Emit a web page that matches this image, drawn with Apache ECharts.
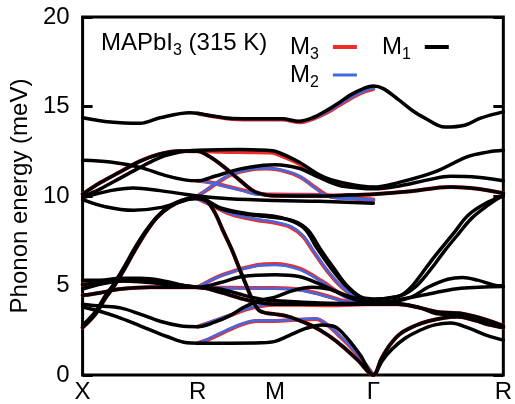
<!DOCTYPE html>
<html>
<head>
<meta charset="utf-8">
<script src="https://cdn.jsdelivr.net/npm/echarts@6/dist/echarts.min.js"></script>
<style>
  html, body { margin: 0; padding: 0; background: #fff; }
  #chart { width: 515px; height: 404px; }
</style>
</head>
<body>
<div id="chart"></div>
<script>
// Path coordinate of the high-symmetry points and their labels
const kTicks = [0, 116, 194, 293, 424];
const kLabels = ['X', 'R', 'M', 'Γ', 'R'];
const energyTicks = [0, 5, 10, 15, 20];

// Bands common to all three models: [k, energy (meV)]
const sharedBands = [
  [[0,2.65],[13,3.4],[23,4.3],[31,4.9],[43,6.0],[51,6.8],[63,7.9],[75,8.8],[88,9.4],[103,9.8],[116,9.95],[124,9.8],[133,9.1],[142,8.0],[150,7.05],[158,5.95],[165,5.0],[172,4.1],[178,3.6],[186,3.45],[194,3.4],[205,3.3],[218,3.05],[233,2.7],[248,2.2],[262,1.6],[277,0.85],[293,0],[293,0],[301,0.9],[310,1.7],[320,2.3],[335,2.75],[348,3.0],[365,3.2],[378,3.25],[395,3.05],[410,2.8],[424,2.65]],
  [[0,10.1],[18,10.75],[38,11.35],[58,11.95],[78,12.35],[98,12.52],[116,12.5],[128,12.2],[143,11.6],[158,10.9],[173,10.25],[186,10.05],[194,10.02],[238,10.0],[268,10.05],[293,10.1],[328,10.25],[371,10.5],[398,10.4],[424,10.15]],
  [[0,4.45],[18,4.6],[38,4.8],[68,4.9],[98,4.9],[116,4.9],[140,4.6],[165,4.2],[194,3.95],[240,3.95],[293,3.95],[318,3.95],[340,3.75],[360,3.5],[380,3.45],[400,3.2],[424,2.75]],
  [[0,5.05],[25,5.2],[50,5.3],[80,5.2],[100,5.0],[116,4.9]]
];

// M1 bands (full path)
const m1Bands = [
  [[0,14.37],[28,14.13],[58,14.06],[78,14.37],[108,14.65],[116,14.62],[128,14.5],[151,14.33],[178,14.32],[201,14.32],[218,14.18],[233,14.4],[245,14.75],[258,15.2],[270,15.65],[283,16.0],[293,16.15],[303,16.0],[318,15.4],[333,14.75],[345,14.35],[365,13.85],[385,13.95],[401,14.35],[424,14.7]],
  [[0,12.0],[28,11.9],[58,11.6],[83,11.15],[103,10.9],[116,10.85],[133,11.1],[158,11.5],[183,11.72],[194,11.75],[218,11.55],[238,11.05],[258,10.6],[278,10.45],[293,10.4],[318,10.55],[348,10.9],[371,11.1],[398,11.05],[424,10.85]],
  [[0,9.95],[18,10.4],[38,11.0],[58,11.6],[78,12.15],[98,12.45],[116,12.55],[158,12.6],[186,12.55],[194,12.5],[218,11.9],[238,11.2],[251,10.9],[275,10.6],[293,10.5],[318,10.75],[355,11.35],[388,12.2],[408,12.45],[424,12.55]],
  [[0,9.9],[28,10.3],[51,10.45],[78,10.3],[103,10.1],[116,10.0],[148,9.85],[194,9.75],[238,9.7],[293,9.6]],
  [[0,9.8],[23,9.4],[51,9.2],[78,9.35],[103,9.75],[116,9.9],[141,9.3],[168,9.0],[194,8.85],[213,8.55],[225,8.1],[236,7.1],[250,6.0],[265,5.0],[281,4.3],[293,4.2],[308,4.3],[321,4.45],[331,4.9],[341,5.6],[351,6.35],[361,7.05],[375,8.0],[388,8.9],[405,9.55],[424,10.0]],
  [[0,2.78],[13,3.55],[23,4.45],[31,5.05],[43,6.15],[51,6.95],[63,8.0],[75,8.85],[88,9.45],[103,9.8],[116,9.85],[141,9.25],[168,8.95],[194,8.8],[213,8.6],[227,8.1],[240,7.0],[254,5.9],[268,4.9],[283,4.3],[293,4.25],[310,4.3],[324,4.5],[335,4.9],[345,5.5],[355,6.2],[365,6.95],[379,7.9],[392,8.75],[409,9.5],[424,10.05]],
  [[0,5.3],[18,5.3],[38,5.4],[58,5.4],[78,5.3],[98,5.05],[116,4.9],[138,5.15],[161,5.5],[194,5.6],[218,5.5],[238,5.1],[258,4.6],[278,4.15],[293,4.05],[318,4.15],[333,4.4],[348,4.9],[368,5.35],[383,5.45],[398,5.3],[413,5.05],[424,4.95]],
  [[0,4.8],[20,5.1],[40,5.25],[70,5.15],[98,4.95],[116,4.9],[138,4.8],[163,4.45],[183,4.2],[194,4.15],[228,4.05],[263,4.0],[293,4.0],[328,4.3],[355,4.6],[381,4.85],[424,4.95]],
  [[0,3.95],[18,3.85],[38,3.75],[58,3.4],[78,3.0],[98,2.75],[116,2.7],[133,2.95],[148,3.3],[163,3.8],[178,4.15],[194,4.35],[211,4.7],[231,4.9],[248,4.8],[268,4.4],[293,4.05],[318,4.0],[338,3.8],[355,3.45],[375,3.35],[390,3.2],[408,2.9],[424,2.65]],
  [[0,3.8],[18,3.55],[35,3.25],[58,2.75],[85,2.15],[105,1.8],[116,1.78],[150,1.78],[180,1.8],[194,1.88],[208,2.2],[225,2.6],[241,2.8],[254,2.7],[266,2.1],[280,1.1],[293,0],[293,0],[302,0.8],[312,1.45],[325,2.05],[340,2.5],[355,2.8],[371,2.9],[390,2.6],[408,2.2],[424,1.95]]
];

// M2 bands where they depart from M1 (R → M → Γ)
const m2Bands = [
  [[116,14.62],[128,14.5],[151,14.33],[178,14.3],[201,14.3],[218,14.15],[233,14.35],[245,14.65],[258,15.1],[270,15.5],[283,15.85],[293,16.0]],
  [[116,10.85],[128,10.75],[141,10.57],[161,10.3],[175,10.1],[194,10.05],[230,10.05],[258,9.98],[278,9.85],[293,9.75]],
  [[116,10.0],[125,10.35],[138,10.85],[151,11.25],[170,11.5],[185,11.55],[194,11.52],[218,11.13],[235,10.4],[248,9.95],[268,9.85],[293,9.8]],
  [[116,9.85],[130,9.5],[150,9.0],[175,8.7],[194,8.55],[210,8.3],[222,7.8],[232,7.0],[246,5.9],[260,5.0],[276,4.35],[293,4.2]],
  [[116,4.9],[141,5.57],[175,6.09],[194,6.15],[218,5.9],[241,5.2],[261,4.46],[280,4.05],[293,4.05]],
  [[116,4.9],[150,4.85],[194,4.83],[218,4.75],[241,4.46],[265,4.1],[293,4.0]],
  [[116,2.7],[128,2.95],[148,3.35],[165,3.7],[180,3.88],[194,3.95],[220,3.95],[248,3.92],[270,3.95],[293,4.0]],
  [[116,1.78],[128,2.05],[145,2.5],[160,2.85],[175,3.05],[194,3.05],[215,3.1],[235,3.15],[247,2.8],[258,2.25],[270,1.6],[281,0.9],[293,0]]
];

// M3 bands where they depart from M1 (R → M → Γ)
const m3Bands = [
  [[116,14.6],[128,14.48],[151,14.3],[178,14.27],[201,14.27],[218,14.12],[233,14.33],[245,14.62],[258,15.05],[270,15.45],[283,15.82],[293,15.98]],
  [[116,12.52],[140,12.47],[170,12.45],[188,12.43],[194,12.38],[218,11.8],[238,11.1],[251,10.82],[275,10.53],[293,10.47]],
  [[116,10.85],[128,10.77],[141,10.6],[161,10.33],[175,10.13],[194,10.08],[230,10.07],[258,10.0],[278,9.87],[293,9.76]],
  [[116,10.0],[125,10.33],[138,10.82],[151,11.22],[170,11.48],[185,11.53],[194,11.5],[218,11.1],[235,10.45],[248,10.0],[268,9.88],[293,9.8]],
  [[116,9.85],[130,9.48],[150,8.97],[175,8.66],[194,8.5],[210,8.25],[222,7.75],[232,6.95],[246,5.85],[260,4.97],[276,4.33],[293,4.2]],
  [[116,4.9],[141,5.6],[175,6.13],[194,6.2],[218,5.95],[241,5.25],[261,4.5],[280,4.07],[293,4.05]],
  [[116,4.9],[150,4.87],[194,4.86],[218,4.78],[241,4.5],[265,4.12],[293,4.0]],
  [[116,2.7],[128,2.93],[148,3.32],[165,3.67],[180,3.85],[194,3.92],[220,3.92],[248,3.9],[270,3.93],[293,4.0]],
  [[116,1.78],[128,2.02],[145,2.46],[160,2.82],[175,3.02],[194,3.02],[215,3.08],[235,3.13],[247,2.78],[258,2.22],[270,1.57],[281,0.88],[293,0]]
];

const FONT = '"Liberation Sans", Arial, Helvetica, sans-serif';
const models = [
  { name: 'M3', color: '#ef2b2d', width: 4, bands: sharedBands.concat(m3Bands) },
  { name: 'M2', color: '#4169e1', width: 2.5, bands: sharedBands.concat(m2Bands) },
  { name: 'M1', color: '#000000', width: 3.5, bands: sharedBands.concat(m1Bands) }
];

const series = [];
models.forEach(m => {
  m.bands.forEach(band => {
    series.push({
      type: 'line',
      name: m.name,
      data: band,
      symbol: 'none',
      smooth: 0.35,
      silent: true,
      itemStyle: { color: m.color },
      lineStyle: { color: m.color, width: m.width, cap: 'round', join: 'round' }
    });
  });
});

const subRich = {
  m: { fontSize: 24, lineHeight: 24, fontFamily: FONT, color: '#000', verticalAlign: 'top' },
  s: { fontSize: 16, lineHeight: 12, padding: [12, 0, 0, 0], fontFamily: FONT, color: '#000', verticalAlign: 'top' },
  g: { width: 9 }
};
const legendText = name => '{m|M}{s|' + name.slice(1) + '}{g|}';

const chart = echarts.init(document.getElementById('chart'), null, { renderer: 'canvas' });
chart.setOption({
  animation: false,
  backgroundColor: '#fff',
  title: {
    text: '{m|MAPbI}{s|3}{m| (315 K)}',
    left: 101, top: 31, padding: 0,
    textStyle: { fontWeight: 'normal', fontSize: 24, fontFamily: FONT, rich: subRich }
  },
  legend: [
    {
      data: ['M3', 'M1'], left: 290, top: 35, padding: 0, orient: 'horizontal',
      align: 'right', itemWidth: 24, itemHeight: 4, itemGap: 25, icon: 'rect',
      selectedMode: false, formatter: legendText,
      textStyle: { fontSize: 24, fontFamily: FONT, color: '#000', rich: subRich }
    },
    {
      data: ['M2'], left: 290, top: 63, padding: 0, orient: 'horizontal',
      align: 'right', itemWidth: 24, itemHeight: 3, icon: 'rect',
      selectedMode: false, formatter: legendText,
      textStyle: { fontSize: 24, fontFamily: FONT, color: '#000', rich: subRich }
    }
  ],
  grid: {
    left: 82, right: 9, top: 17, bottom: 27,
    show: true, borderColor: '#000', borderWidth: 3, backgroundColor: 'transparent'
  },
  xAxis: {
    type: 'value', min: kTicks[0], max: kTicks[kTicks.length - 1],
    axisLine: { show: false }, axisTick: { show: false }, splitLine: { show: false },
    axisLabel: {
      customValues: kTicks, margin: 5,
      fontSize: 24, fontFamily: FONT, color: '#000',
      formatter: v => kLabels[kTicks.indexOf(v)]
    }
  },
  yAxis: [
    {
      type: 'value', min: energyTicks[0], max: energyTicks[energyTicks.length - 1], interval: 5,
      name: 'Phonon energy (meV)', nameLocation: 'middle', nameGap: 50,
      nameTextStyle: { fontSize: 24, fontFamily: FONT, color: '#000' },
      axisLine: { show: false }, splitLine: { show: false },
      axisTick: { inside: true, length: 10, lineStyle: { color: '#000', width: 3 } },
      axisLabel: { margin: 13, fontSize: 24, fontFamily: FONT, color: '#000' }
    },
    {
      type: 'value', position: 'right', min: energyTicks[0], max: energyTicks[energyTicks.length - 1], interval: 5,
      axisLine: { show: false }, splitLine: { show: false }, axisLabel: { show: false },
      axisTick: { inside: true, length: 10, lineStyle: { color: '#000', width: 3 } }
    }
  ],
  series: series
});
</script>
</body>
</html>
